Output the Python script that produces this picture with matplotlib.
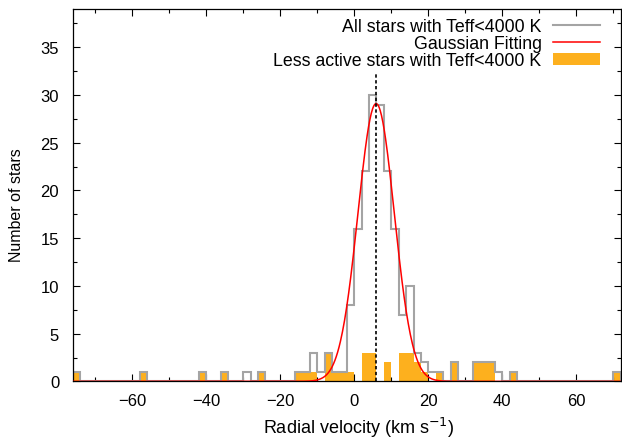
import numpy as np
import matplotlib
matplotlib.use("Agg")
import matplotlib.pyplot as plt
from matplotlib.ticker import MultipleLocator

plt.rcParams['font.family'] = ['Liberation Sans', 'DejaVu Sans']

# histogram bins: 2 km/s wide, left edges of the filled bins
bin_width = 2
bin_lo, bin_hi = -76, 72

all_left = [-76, -58, -42, -36, -30, -26, -16, -14, -12, -10, -8, -6, -4, -2,
            0, 2, 4, 6, 8, 10, 12, 14, 16, 18, 20, 22, 26, 32, 34, 36, 38, 42, 70]
all_counts = [1, 1, 1, 1, 1, 1, 1, 1, 3, 1, 3, 1, 1, 8,
              16, 22, 30, 29, 22, 16, 7, 10, 3, 2, 1, 1, 2, 2, 2, 2, 1, 1, 1]

quiet_left = [-76, -58, -42, -36, -26, -16, -14, -12, -8, -6, -4, -2,
              2, 4, 8, 12, 14, 16, 18, 22, 26, 32, 34, 36, 42, 70]
quiet_counts = [1, 1, 1, 1, 1, 1, 1, 1, 3, 1, 1, 1,
                3, 3, 2, 3, 3, 2, 1, 1, 2, 2, 2, 2, 1, 1]

# gaussian fit to the full sample
fit_amp, fit_mu, fit_sigma = 29.1, 5.9, 4.9

edges = np.arange(bin_lo, bin_hi + bin_width, bin_width)
all_hist = np.zeros(len(edges) - 1)
for l, c in zip(all_left, all_counts):
    all_hist[(l - bin_lo) // bin_width] = c

fig = plt.figure(figsize=(6.22, 4.39), dpi=100)
ax = fig.add_axes([0.1174, 0.129, 0.8806, 0.848])

ax.stairs(all_hist, edges, color='#a4a4a4', linewidth=1.5, zorder=2,
          label='All stars with Teff<4000 K')
xs = np.linspace(bin_lo, bin_hi, 800)
ax.plot(xs, fit_amp * np.exp(-(xs - fit_mu) ** 2 / (2 * fit_sigma ** 2)),
        color='red', linewidth=1.1, zorder=3, label='Gaussian Fitting')
ax.bar(quiet_left, quiet_counts, width=bin_width, align='edge',
       color='#fdb01e', linewidth=0, zorder=1,
       label='Less active stars with Teff<4000 K')
ax.axvline(fit_mu, ymin=0, ymax=0.83, color='black', linestyle=(0, (2, 1.5)),
           linewidth=1.2, zorder=4)

ax.set_xlim(bin_lo, bin_hi)
ax.set_ylim(0, 39)
ax.xaxis.set_major_locator(MultipleLocator(20))
ax.xaxis.set_minor_locator(MultipleLocator(10))
ax.yaxis.set_major_locator(MultipleLocator(5))
ax.yaxis.set_minor_locator(MultipleLocator(2.5))
ax.tick_params(which='both', direction='in', top=True, right=True, labelsize=12, width=0.8)
ax.tick_params(which='major', length=5)
ax.tick_params(which='minor', length=3)
ax.tick_params(axis='x', which='major', pad=8.5)
ax.tick_params(axis='y', which='major', pad=10)
for s in ax.spines.values():
    s.set_linewidth(0.9)

ax.set_xlabel('Radial velocity (km s$^{-1}$)', fontsize=13)
ax.xaxis.set_label_coords(0.522, -0.091)
ax.set_ylabel('Number of stars', fontsize=11.5)
ax.yaxis.set_label_coords(-0.089, 0.475)

ax.legend(loc='upper right', markerfirst=False, frameon=False, fontsize=12.8,
          handlelength=2.65, handletextpad=0.62, labelspacing=0.0,
          borderaxespad=0.0, bbox_to_anchor=(0.9745, 0.995))

fig.savefig('out.png', dpi=100)
